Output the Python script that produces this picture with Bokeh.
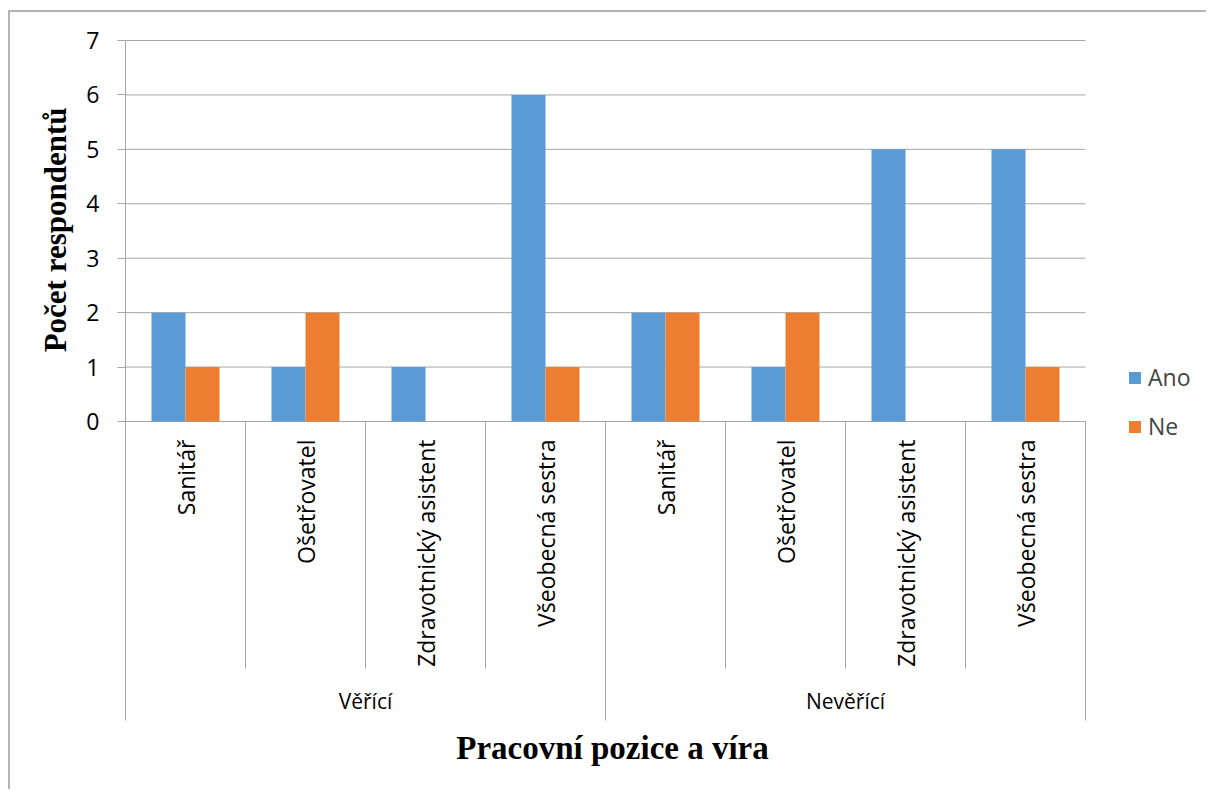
import math
from bokeh.plotting import figure
from bokeh.models import Range1d, FixedTicker, Legend, LegendItem, Label, Title, ColumnDataSource
from bokeh.core.properties import value
from bokeh.embed import file_html
from bokeh.resources import INLINE

groups = ["Věřící", "Nevěřící"]
positions = ["Sanitář", "Ošetřovatel", "Zdravotnický asistent", "Všeobecná sestra"]
ano = [2, 1, 1, 6, 2, 1, 5, 5]
ne = [1, 2, 0, 1, 2, 2, 0, 1]
y_ticks = [0, 1, 2, 3, 4, 5, 6, 7]
series_names = ["Ano", "Ne"]

BLUE = "#5B9BD5"
ORANGE = "#ED7D31"
GRAY = "#A6A6A6"
SANS = "Open Sans"
SERIF = "Liberation Serif"

W, H = 1208, 791
OX, OY = 10, 12           # canvas origin on the page (after the border)
FL, FT = 125, 30          # frame left / top on the page
Y0, Y7 = 421, 40          # page y of value 0 and 7
PX = (Y0 - Y7) / 7.0
CAT = 120.0
ymin = -(H - Y0) / PX
ymax = 7 + (Y7 - FT) / PX
xmax = (W - FL) / CAT
ncat = len(ano)
xend = float(ncat)

centers = [i + 0.5 for i in range(ncat)]
bw = 34 / CAT
off = 17 / CAT

p = figure(width=W - OX, height=H - OY,
           x_range=Range1d(0, xmax), y_range=Range1d(ymin, ymax),
           output_backend="svg", toolbar_location=None,
           min_border_left=FL - OX, min_border_top=FT - OY,
           min_border_right=0, min_border_bottom=0)
p.styles = {"margin-left": "8px", "margin-top": "10px",
            "border-left": "2px solid #B4B4B4", "border-top": "2px solid #B4B4B4"}
p.outline_line_color = None
p.background_fill_color = "white"
p.border_fill_color = "white"

# gridlines (drawn only over the category span)
p.segment(x0=[0] * len(y_ticks), y0=y_ticks, x1=[xend] * len(y_ticks), y1=y_ticks,
          line_color=GRAY, line_width=1)

src = ColumnDataSource(dict(xa=[c - off for c in centers], xn=[c + off for c in centers], ano=ano, ne=ne))
r1 = p.vbar(x="xa", top="ano", bottom=0, width=bw, source=src, fill_color=BLUE, line_color=None)
r2 = p.vbar(x="xn", top="ne", bottom=0, width=bw, source=src, fill_color=ORANGE, line_color=None)

# axes
sep_bot = -(720 - Y0) / PX
inner_bot = -(668 - Y0) / PX
p.xaxis.visible = False
p.xgrid.visible = False
p.ygrid.visible = False
p.yaxis.ticker = FixedTicker(ticks=y_ticks)
p.yaxis.bounds = (sep_bot, 7)
p.yaxis.axis_line_color = GRAY
p.yaxis.major_tick_line_color = GRAY
p.yaxis.major_tick_out = 8
p.yaxis.major_tick_in = 0
p.yaxis.minor_tick_line_color = None
p.yaxis.major_label_text_font = SANS
p.yaxis.major_label_text_font_size = "23px"
p.yaxis.major_label_text_color = "black"
p.yaxis.major_label_standoff = 18

# category separators
inner_x = [1, 2, 3, 5, 6, 7]
group_x = [4, 8]
p.segment(x0=inner_x, y0=[0] * len(inner_x), x1=inner_x, y1=[inner_bot] * len(inner_x),
          line_color=GRAY, line_width=1)
p.segment(x0=group_x, y0=[0] * len(group_x), x1=group_x, y1=[sep_bot] * len(group_x),
          line_color=GRAY, line_width=1)

# category labels
p.text(x=centers, y=[-(439 - Y0) / PX] * ncat, text=positions * 2, angle=math.pi / 2,
       text_align="right", text_baseline="middle", text_font=value(SANS),
       text_font_size="23px", text_color="black")
p.text(x=[2, 6], y=[-(700 - Y0) / PX] * 2, text=groups,
       text_align="center", text_baseline="middle", text_font=value(SANS),
       text_font_size="21px", text_color="black")

# x axis title
p.add_layout(Label(x=(612 - FL) / CAT, y=-(747 - Y0) / PX, text="Pracovní pozice a víra",
                   text_align="center", text_baseline="middle", text_font=SERIF,
                   text_font_style="bold", text_font_size="33px", text_color="black"))
# y axis title
p.add_layout(Title(text="Počet respondentů", align="right", offset=107 - FT,
                   vertical_align="bottom", standoff=22, text_font=SERIF,
                   text_font_style="bold", text_font_size="31px", text_color="black"), "left")

legend = Legend(items=[LegendItem(label=series_names[0], renderers=[r1]),
                       LegendItem(label=series_names[1], renderers=[r2])],
                location=(1127 - FL, H - 442), orientation="vertical",
                glyph_width=15, glyph_height=15, label_text_font=SANS,
                label_text_font_size="23px", label_standoff=6, label_height=20,
                spacing=17, padding=0, margin=0, border_line_color=None,
                background_fill_alpha=0)
p.add_layout(legend, "center")

open("out.html", "w").write(file_html(p, INLINE))
